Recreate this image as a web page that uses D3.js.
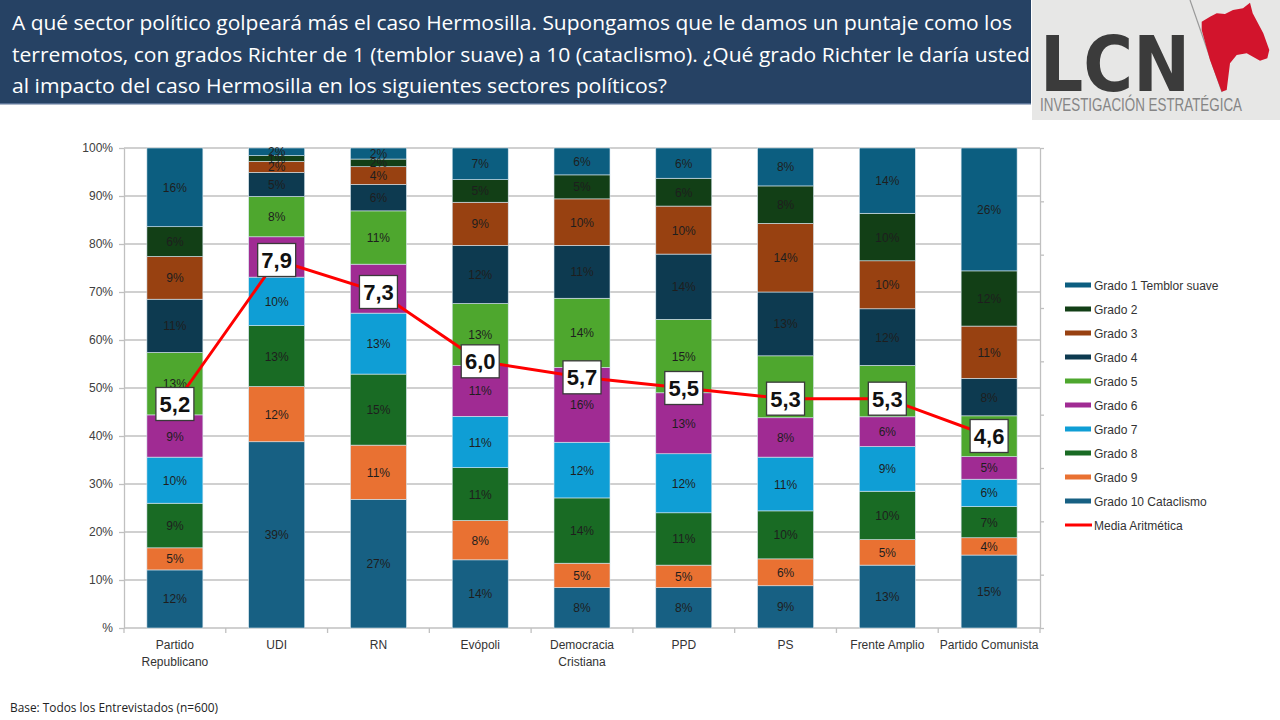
<!DOCTYPE html>
<html><head><meta charset="utf-8">
<script src="https://cdn.jsdelivr.net/npm/d3@7"></script>
<style>html,body{margin:0;padding:0;background:#fff;}svg{display:block;}</style>
</head><body>
<svg id="chart" width="1280" height="720"></svg>
<script>
// ---------- DATA ----------
const categories = ["Partido Republicano","UDI","RN","Evópoli","Democracia Cristiana","PPD","PS","Frente Amplio","Partido Comunista"];
const categoryLabels = [["Partido","Republicano"],["UDI"],["RN"],["Evópoli"],["Democracia","Cristiana"],["PPD"],["PS"],["Frente Amplio"],["Partido Comunista"]];
const seriesNames = ["Grado 1 Temblor suave","Grado 2","Grado 3","Grado 4","Grado 5","Grado 6","Grado 7","Grado 8","Grado 9","Grado 10 Cataclismo"];
const grado1  = [16.4, 1.6, 2.3, 6.6, 5.6, 6.3, 7.9, 13.6, 25.6];
const grado2  = [6.2, 1.2, 1.6, 4.7, 5.0, 5.8, 7.8, 9.9, 11.5];
const grado3  = [8.9, 2.3, 3.7, 9.0, 9.7, 10.0, 14.3, 10.0, 10.9];
const grado4  = [11.1, 5.0, 5.5, 12.1, 11.0, 13.6, 13.3, 11.8, 7.8];
const grado5  = [13.0, 8.4, 11.1, 12.9, 14.4, 15.3, 12.9, 10.7, 8.5];
const grado6  = [8.8, 8.4, 10.2, 10.6, 15.6, 12.7, 8.2, 6.2, 4.7];
const grado7  = [9.6, 10.1, 12.7, 10.7, 11.6, 12.3, 11.2, 9.3, 5.7];
const grado8  = [9.3, 12.7, 14.8, 11.0, 13.6, 10.9, 10.0, 10.1, 6.5];
const grado9  = [4.6, 11.5, 11.3, 8.2, 5.1, 4.7, 5.6, 5.3, 3.6];
const grado10 = [12.1, 38.8, 26.8, 14.2, 8.4, 8.4, 8.8, 13.1, 15.2];
const media   = [5.2, 7.9, 7.3, 6.0, 5.7, 5.5, 5.3, 5.3, 4.6];
const yTicks = [0,10,20,30,40,50,60,70,80,90,100];
const mediaName = "Media Aritmética";
const titleLines = [
  "A qué sector político golpeará más el caso Hermosilla. Supongamos que le damos un puntaje como los",
  "terremotos, con grados Richter de 1 (temblor suave) a 10 (cataclismo). ¿Qué grado Richter le daría usted",
  "al impacto del caso Hermosilla en los siguientes sectores políticos?"
];
const footnote = "Base: Todos los Entrevistados (n=600)";

// ---------- STYLE ----------
const colors = ["#0c5e80","#123f16","#984111","#0d3a50","#4ea72e","#a02b93","#0f9ed5","#196b24","#e97132","#176083"];
const FONT = "'Liberation Sans', Arial, sans-serif";

const svg = d3.select("#chart");

// Title band
svg.append("rect").attr("x",0).attr("y",0).attr("width",1031).attr("height",104).attr("fill","#264264");
svg.append("rect").attr("x",0).attr("y",103).attr("width",1031).attr("height",1.5).attr("fill","#5a7396");
const titleEnds = [1012, 1030, 667];
titleLines.forEach((t,i)=>{
  svg.append("text").attr("x",12).attr("y",30+i*31.5).attr("fill","#ffffff")
    .attr("font-family","'Open Sans', 'Noto Sans', sans-serif").attr("font-size",20)
    .attr("textLength", titleEnds[i]-12).attr("lengthAdjust","spacingAndGlyphs")
    .text(t);
});

// Logo
const logo = svg.append("g");
logo.append("rect").attr("x",1032).attr("y",0).attr("width",248).attr("height",120).attr("fill","#e7e7e6");
logo.append("line").attr("x1",1190).attr("y1",0).attr("x2",1222).attr("y2",92).attr("stroke","#9a9a9a").attr("stroke-width",1.2);
logo.append("text").attr("x",1040).attr("y",91).attr("fill","#3b3b3b").attr("font-family","'DejaVu Sans', sans-serif")
  .attr("font-weight","bold").attr("font-size",76).attr("textLength",150).attr("lengthAdjust","spacingAndGlyphs").text("LCN");
logo.append("path").attr("fill","#d2142c").attr("d",
  "M1201.7,21.7 L1210,16.7 L1216.7,13.3 L1225,14 L1233,10 L1243,8.3 L1250,2.7 L1252.7,13.3 L1263.3,33.3 L1269.3,50 L1267.3,58.3 L1260,60.7 L1246.7,53.3 L1236.7,55 L1230,63.3 L1226.7,90 L1221.7,91.7 L1210,60 L1201.7,30 Z");
logo.append("text").attr("x",1040).attr("y",111).attr("fill","#858585").attr("font-family",FONT)
  .attr("font-size",18).attr("textLength",202).attr("lengthAdjust","spacingAndGlyphs").text("INVESTIGACIÓN ESTRATÉGICA");

// Scales
const x = d3.scaleBand().domain(categories).range([124,1040]).paddingInner(0.45).paddingOuter(0.225);
const y = d3.scaleLinear().domain([0,100]).range([628,148]);
const y2 = d3.scaleLinear().domain([1,10]).range([628,148]);

// Gridlines
svg.append("g").selectAll("line").data(yTicks).join("line")
  .attr("x1",124).attr("x2",1040).attr("y1",d=>y(d)).attr("y2",d=>y(d))
  .attr("stroke","#c0c0c0").attr("stroke-width",1.3);

// Left axis
const yAxis = svg.append("g").attr("transform","translate(124,0)")
  .call(d3.axisLeft(y).tickValues(yTicks).tickSize(5).tickSizeOuter(0).tickPadding(6)
    .tickFormat(d=> d===0 ? "%" : d+"%"));
yAxis.select(".domain").attr("stroke","#c0c0c0").attr("stroke-width",1.3);
yAxis.selectAll(".tick line").attr("stroke","#c0c0c0").attr("stroke-width",1.3);
yAxis.selectAll("text").attr("font-family",FONT).attr("font-size",12).attr("fill","#404040");

// Right (secondary) axis
const y2Axis = svg.append("g").attr("transform","translate(1040,0)")
  .call(d3.axisRight(y2).tickValues(d3.range(1,11)).tickSize(4).tickSizeOuter(0).tickFormat(""));
y2Axis.select(".domain").attr("stroke","#c0c0c0").attr("stroke-width",1.3);
y2Axis.selectAll(".tick line").attr("stroke","#c0c0c0").attr("stroke-width",1.3);

// Bottom axis: boundary ticks
const step = x.step();
const bounds = categories.map(c => x(c) + x.bandwidth()/2 - step/2).concat([x(categories[categories.length-1]) + x.bandwidth()/2 + step/2]);
svg.append("g").selectAll("line").data(bounds).join("line")
  .attr("x1",d=>d).attr("x2",d=>d).attr("y1",628).attr("y2",633)
  .attr("stroke","#c0c0c0").attr("stroke-width",1.3);
const xl = svg.append("g").selectAll("text").data(categories).join("text")
  .attr("x",d=>x(d)+x.bandwidth()/2).attr("y",649)
  .attr("text-anchor","middle").attr("font-family",FONT).attr("font-size",12).attr("fill","#333");
xl.each(function(d,i){
  const t = d3.select(this);
  categoryLabels[i].forEach((ln,j)=>{
    t.append("tspan").attr("x",x(d)+x.bandwidth()/2).attr("dy", j===0?0:17).text(ln);
  });
});

// Stacked bars: bottom = Grado 10 ... top = Grado 1
const seriesValues = [grado1,grado2,grado3,grado4,grado5,grado6,grado7,grado8,grado9,grado10];
const rows = categories.map((c,i)=>{
  const r = {cat:c, media:media[i]};
  seriesNames.forEach((s,k)=>{ r[s] = seriesValues[k][i]; });
  return r;
});
const stackOrder = seriesNames.slice().reverse();
const stacked = d3.stack().keys(stackOrder)(rows);
const colorOf = d3.scaleOrdinal().domain(seriesNames).range(colors);
const BOX_H = 33;

const barG = svg.append("g");
stacked.forEach(layer=>{
  const g = barG.append("g");
  g.selectAll("rect").data(layer).join("rect")
    .attr("x",d=>x(d.data.cat)).attr("width",x.bandwidth())
    .attr("y",d=>y(d[1])).attr("height",d=>y(d[0])-y(d[1]))
    .attr("fill",colorOf(layer.key)).attr("stroke","#d8e6ef").attr("stroke-width",0.6);
});
stacked.forEach(layer=>{
  // labels fully hidden behind a mean box in the reference are not drawn
  const visible = layer.filter(d=>{
    const cy = (y(d[0])+y(d[1]))/2;
    const by = y2(d.data.media);
    return Math.abs(cy-by) > BOX_H/2;
  });
  barG.append("g").selectAll("text").data(visible).join("text")
    .attr("x",d=>x(d.data.cat)+x.bandwidth()/2).attr("y",d=>(y(d[0])+y(d[1]))/2+4.5)
    .attr("text-anchor","middle").attr("font-family",FONT).attr("font-size",12).attr("fill","#1e1e1e")
    .text(d=>Math.round(d[1]-d[0])+"%");
});

// Mean line
const line = d3.line().x((d,i)=>x(categories[i])+x.bandwidth()/2).y(d=>y2(d));
svg.append("path").datum(media).attr("d",line).attr("fill","none").attr("stroke","#ff0000").attr("stroke-width",3);

// Mean labels
const ml = svg.append("g").selectAll("g").data(media).join("g")
  .attr("transform",(d,i)=>`translate(${x(categories[i])+x.bandwidth()/2},${y2(d)})`);
ml.append("rect").attr("x",-19).attr("y",-BOX_H/2).attr("width",38).attr("height",BOX_H)
  .attr("fill","#fff").attr("stroke","#3a3a3a").attr("stroke-width",1.3);
ml.append("text").attr("text-anchor","middle").attr("y",8).attr("font-family",FONT)
  .attr("font-weight","bold").attr("font-size",22).attr("fill","#111")
  .text(d=>d.toFixed(1).replace(".",","));

// Legend
const leg = svg.append("g").attr("transform","translate(1065,285)");
seriesNames.forEach((s,i)=>{
  const g = leg.append("g").attr("transform",`translate(0,${i*24})`);
  g.append("rect").attr("x",0).attr("y",-2.5).attr("width",26).attr("height",5).attr("fill",colorOf(s));
  g.append("text").attr("x",29).attr("y",4.5).attr("font-family",FONT).attr("font-size",12).attr("fill","#333").text(s);
});
const lg = leg.append("g").attr("transform",`translate(0,${seriesNames.length*24})`);
lg.append("line").attr("x1",0).attr("x2",27).attr("y1",0).attr("y2",0).attr("stroke","#ff0000").attr("stroke-width",3);
lg.append("text").attr("x",29).attr("y",4.5).attr("font-family",FONT).attr("font-size",12).attr("fill","#333").text(mediaName);

// Footnote
svg.append("text").attr("x",10).attr("y",712).attr("font-family","'Open Sans', sans-serif").attr("font-size",12)
  .attr("textLength",208).attr("lengthAdjust","spacingAndGlyphs").attr("fill","#222").text(footnote);
</script>
</body></html>
